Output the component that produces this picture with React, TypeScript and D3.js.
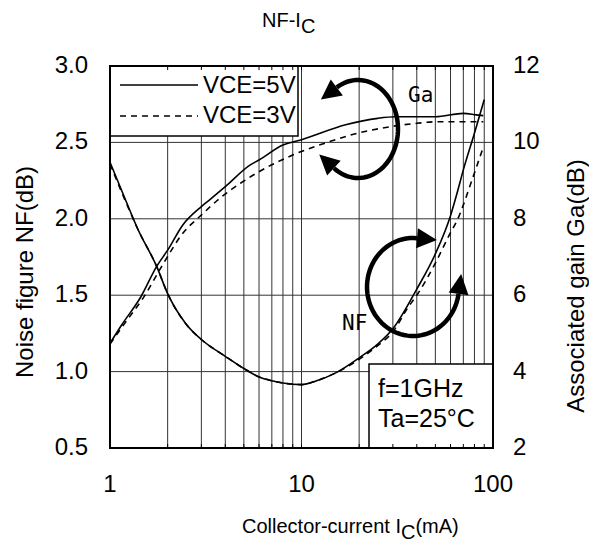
import React from "react";
import * as d3 from "d3";

// Noise figure (left axis, dB) vs collector current (mA)
const nf5Current = [1, 1.2, 1.4, 1.75, 2, 2.5, 3, 4, 5, 6, 7, 8, 10, 12, 15, 20, 25, 30, 40, 50, 60, 65, 70, 80, 90];
const nf5Value = [2.37, 2.13, 1.93, 1.69, 1.51, 1.31, 1.21, 1.1, 1.02, 0.965, 0.94, 0.925, 0.915, 0.94, 0.99, 1.09, 1.18, 1.28, 1.54, 1.77, 2.02, 2.17, 2.32, 2.56, 2.78];
const nf3Current = [1, 1.2, 1.4, 1.75, 2, 2.5, 3, 4, 5, 6, 7, 8, 10, 12, 15, 20, 25, 30, 36, 40, 50, 60, 65, 70, 76, 80, 89];
const nf3Value = [2.36, 2.12, 1.93, 1.69, 1.51, 1.31, 1.21, 1.1, 1.02, 0.965, 0.94, 0.925, 0.915, 0.94, 0.99, 1.08, 1.17, 1.26, 1.42, 1.5, 1.71, 1.91, 1.99, 2.09, 2.22, 2.3, 2.47];

// Associated gain (right axis, dB) vs collector current (mA)
const ga5Current = [1, 1.15, 1.45, 1.75, 2, 2.4, 3, 3.3, 4, 5.4, 6, 8, 10, 17, 25, 31, 50, 70, 82, 89];
const ga5Value = [4.74, 5.22, 5.96, 6.75, 7.18, 7.84, 8.32, 8.49, 8.84, 9.41, 9.54, 9.93, 10.07, 10.46, 10.63, 10.67, 10.67, 10.76, 10.72, 10.7];
const ga3Current = [1, 1.2, 1.5, 1.9, 2.4, 3, 3.75, 4.8, 5.8, 9, 14, 18, 29, 40, 50, 82, 89];
const ga3Value = [4.72, 5.28, 5.95, 6.83, 7.62, 8.1, 8.54, 8.93, 9.19, 9.67, 10.02, 10.19, 10.41, 10.5, 10.54, 10.54, 10.54];

const xTicks = [1, 10, 100];
const xGrid = [2, 3, 4, 5, 6, 7, 8, 9, 10, 20, 30, 40, 50, 60, 70, 80, 90];
const nfTicks = [0.5, 1.0, 1.5, 2.0, 2.5, 3.0];
const gaTicks = [2, 4, 6, 8, 10, 12];
const legendLabels = ["VCE=5V", "VCE=3V"];
const conditions = ["f=1GHz", "Ta=25°C"];

const W = 589;
const H = 550;
const L = 110;
const R = 493;
const T = 66;
const B = 448;
const FONT = "'Liberation Sans', Arial, sans-serif";

const x = d3.scaleLog().domain([1, 100]).range([L, R]);
const yNF = d3.scaleLinear().domain([0.5, 3]).range([B, T]);
const yGa = d3.scaleLinear().domain([2, 12]).range([B, T]);

const line = d3.line<[number, number]>().x((d) => d[0]).y((d) => d[1]).curve(d3.curveMonotoneX);

function seriesPath(cur: number[], val: number[], y: d3.ScaleLinear<number, number>) {
  return line(cur.map((c, i) => [x(c), y(val[i])] as [number, number])) || "";
}

// Elliptical arc with arrowheads at both ends
function CurvedArrow(props: { cx: number; cy: number; rx: number; ry: number; a0: number; a1: number }) {
  const { cx, cy, rx, ry, a0, a1 } = props;
  const rad = (a: number) => (a * Math.PI) / 180;
  const n = 60;
  const pts: [number, number][] = d3.range(n + 1).map((i) => {
    const a = rad(a0 + ((a1 - a0) * i) / n);
    return [cx + rx * Math.cos(a), cy + ry * Math.sin(a)];
  });
  const arc = d3.line()(pts) || "";
  const sgn = a1 > a0 ? 1 : -1;
  const head = (a: number, dir: number) => {
    const t = rad(a);
    const px = cx + rx * Math.cos(t);
    const py = cy + ry * Math.sin(t);
    let tx = -rx * Math.sin(t) * dir;
    let ty = ry * Math.cos(t) * dir;
    const len = Math.hypot(tx, ty);
    tx /= len;
    ty /= len;
    const hl = 20;
    const hw = 10;
    const tip = [px + tx * hl, py + ty * hl];
    const b1 = [px - ty * hw, py + tx * hw];
    const b2 = [px + ty * hw, py - tx * hw];
    return `M${tip[0]},${tip[1]}L${b1[0]},${b1[1]}L${b2[0]},${b2[1]}Z`;
  };
  return (
    <g>
      <path d={arc} fill="none" stroke="#000" strokeWidth={4.5} />
      <path d={head(a0, -sgn)} fill="#000" />
      <path d={head(a1, sgn)} fill="#000" />
    </g>
  );
}

export default function App() {
  return (
    <svg
      width={W}
      height={H}
      viewBox={`0 0 ${W} ${H}`}
      style={{ position: "absolute", left: 0, top: 0, background: "#fff" }}
      fontFamily={FONT}
    >
      <rect x={0} y={0} width={W} height={H} fill="#fff" />
      <defs>
        <clipPath id="plot-clip">
          <rect x={L} y={T} width={R - L} height={B - T} />
        </clipPath>
      </defs>

      {/* grid */}
      <g stroke="#333" strokeWidth={1}>
        {xGrid.map((v) => (
          <line key={"gx" + v} x1={x(v)} x2={x(v)} y1={T} y2={B} />
        ))}
        {nfTicks.slice(1, -1).map((v) => (
          <line key={"gy" + v} x1={L} x2={R} y1={yNF(v)} y2={yNF(v)} />
        ))}
      </g>

      {/* curves */}
      <g clipPath="url(#plot-clip)" fill="none" stroke="#000" strokeWidth={1.6}>
        <path d={seriesPath(nf5Current, nf5Value, yNF)} />
        <path d={seriesPath(nf3Current, nf3Value, yNF)} strokeDasharray="6,5" />
        <path d={seriesPath(ga5Current, ga5Value, yGa)} />
        <path d={seriesPath(ga3Current, ga3Value, yGa)} strokeDasharray="6,5" />
      </g>

      {/* legend */}
      <rect x={L} y={T} width={188} height={70} fill="#fff" stroke="#000" strokeWidth={1.5} />
      <line x1={120} x2={198} y1={85} y2={85} stroke="#000" strokeWidth={1.6} />
      <line x1={120} x2={198} y1={116} y2={116} stroke="#000" strokeWidth={1.6} strokeDasharray="6,5" />
      <text x={203} y={92.5} fontSize={24}>{legendLabels[0]}</text>
      <text x={203} y={123} fontSize={24}>{legendLabels[1]}</text>

      {/* measurement conditions */}
      <rect x={369} y={364} width={R - 369} height={B - 364} fill="#fff" stroke="#000" strokeWidth={1.5} />
      <text x={378} y={396.5} fontSize={25}>{conditions[0]}</text>
      <text x={378} y={426.5} fontSize={25}>{conditions[1]}</text>

      {/* inner ticks on top and bottom edges */}
      <g stroke="#000" strokeWidth={1}>
        {xGrid.map((v) => (
          <g key={"tk" + v}>
            <line x1={x(v)} x2={x(v)} y1={B} y2={B - 4} />
            <line x1={x(v)} x2={x(v)} y1={T} y2={T + 4} />
          </g>
        ))}
      </g>

      {/* frame */}
      <rect x={L} y={T} width={R - L} height={B - T} fill="none" stroke="#000" strokeWidth={2} />

      {/* curve group markers */}
      <CurvedArrow cx={358} cy={129} rx={40} ry={49} a0={-122} a1={127} />
      <CurvedArrow cx={413} cy={287} rx={46} ry={49} a0={-85} a1={-352} />
      <text x={408} y={102} fontSize={21} fontFamily="'DejaVu Sans Mono', monospace">Ga</text>
      <text x={342} y={330} fontSize={21} fontFamily="'DejaVu Sans Mono', monospace">NF</text>

      {/* left axis */}
      {nfTicks.map((v) => (
        <text key={"ln" + v} x={88} y={yNF(v) + 7} fontSize={24} textAnchor="end">
          {v.toFixed(1)}
        </text>
      ))}
      {/* right axis */}
      {gaTicks.map((v) => (
        <text key={"rg" + v} x={513} y={yGa(v) + 7} fontSize={24}>
          {v}
        </text>
      ))}
      {/* bottom axis */}
      {xTicks.map((v) => (
        <text key={"bx" + v} x={x(v)} y={492} fontSize={24} textAnchor="middle">
          {v}
        </text>
      ))}

      {/* titles */}
      <text x={262} y={27} fontSize={20}>
        NF-I<tspan dy={6}>C</tspan>
      </text>
      <text x={242} y={533} fontSize={20}>
        Collector-current I<tspan dy={6}>C</tspan>
        <tspan dy={-6}>(mA)</tspan>
      </text>
      <text transform="translate(33,272) rotate(-90)" fontSize={24} textAnchor="middle">
        Noise figure NF(dB)
      </text>
      <text transform="translate(584,286) rotate(-90)" fontSize={24} textAnchor="middle">
        Associated gain Ga(dB)
      </text>
    </svg>
  );
}
